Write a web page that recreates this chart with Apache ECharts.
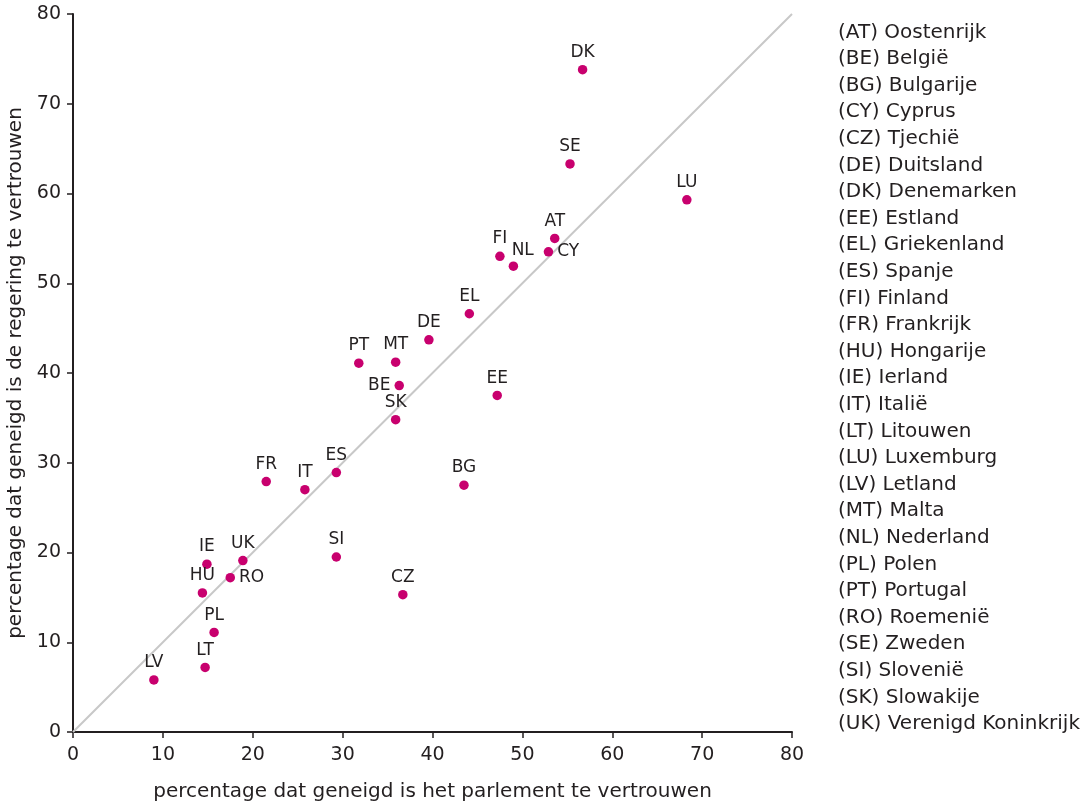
<!DOCTYPE html>
<html><head><meta charset="utf-8">
<script src="https://cdn.jsdelivr.net/npm/echarts@6/dist/echarts.min.js"></script>
<style>html,body{margin:0;padding:0;background:#fff}#c{width:1085px;height:805px}</style>
</head><body><div id="c"></div>
<script>
const codes = ['DK','SE','LU','AT','CY','FI','NL','EL','DE','PT','MT','BE','EE','SK','ES','FR','IT','BG','SI','CZ','UK','IE','RO','HU','PL','LT','LV'];
const parliament = [56.7,55.3,68.3,53.6,52.9,47.5,49.0,44.1,39.6,31.8,35.9,36.3,47.2,35.9,29.3,21.5,25.8,43.5,29.3,36.7,18.9,14.9,17.5,14.4,15.7,14.7,9.0];
const government = [73.8,63.3,59.3,55.0,53.5,53.0,51.9,46.6,43.7,41.1,41.2,38.6,37.5,34.8,28.9,27.9,27.0,27.5,19.5,15.3,19.1,18.7,17.2,15.5,11.1,7.2,5.8];
const legendLines = ['(AT) Oostenrijk','(BE) België','(BG) Bulgarije','(CY) Cyprus','(CZ) Tjechië','(DE) Duitsland','(DK) Denemarken','(EE) Estland','(EL) Griekenland','(ES) Spanje','(FI) Finland','(FR) Frankrijk','(HU) Hongarije','(IE) Ierland','(IT) Italië','(LT) Litouwen','(LU) Luxemburg','(LV) Letland','(MT) Malta','(NL) Nederland','(PL) Polen','(PT) Portugal','(RO) Roemenië','(SE) Zweden','(SI) Slovenië','(SK) Slowakije','(UK) Verenigd Koninkrijk'];
const diagonal = [[0,0],[80,80]];
const labelPos = {CY:'right', RO:'right', BE:'left', NL:[3,-19]};

const font = '"DejaVu Sans", "Liberation Sans", sans-serif';
const ink = '#231f20';
const chart = echarts.init(document.getElementById('c'));
const pts = codes.map((c,i)=>({value:[parliament[i],government[i]], name:c, label:{position:labelPos[c] || 'top'}}));
chart.setOption({
  animation:false,
  grid:{left:73,right:293,top:14,bottom:73,outerBoundsMode:'none',containLabel:false},
  xAxis:{type:'value',min:0,max:80,interval:10,
    name:'percentage dat geneigd is het parlement te vertrouwen',nameLocation:'middle',nameGap:50,
    nameTextStyle:{fontSize:20,color:ink,fontFamily:font},
    axisLine:{lineStyle:{color:ink,width:2}},axisTick:{length:6,lineStyle:{color:ink,width:1.5}},
    axisLabel:{fontSize:19,color:ink,fontFamily:font,margin:14},splitLine:{show:false}},
  yAxis:{type:'value',min:0,max:80,interval:10,
    name:'percentage dat geneigd is de regering te vertrouwen',nameLocation:'middle',nameGap:47,
    nameTextStyle:{fontSize:20,color:ink,fontFamily:font},
    axisLine:{show:true,lineStyle:{color:ink,width:2}},axisTick:{show:true,length:6,lineStyle:{color:ink,width:1.5}},
    axisLabel:{fontSize:19,color:ink,fontFamily:font,margin:12},splitLine:{show:false}},
  series:[
    {type:'line',data:diagonal,symbol:'none',lineStyle:{color:'#c8c8c8',width:2},silent:true,z:1},
    {type:'scatter',data:pts,symbolSize:9.5,itemStyle:{color:'#c8006e',opacity:1},z:3,
      label:{show:true,formatter:'{b}',fontSize:17,color:ink,fontFamily:font,distance:4}}
  ],
  graphic:[{type:'text',left:838,top:19,style:{text:legendLines.join('\n'),fontSize:20,lineHeight:26.6,fill:ink,fontFamily:font}}]
});
</script></body></html>
